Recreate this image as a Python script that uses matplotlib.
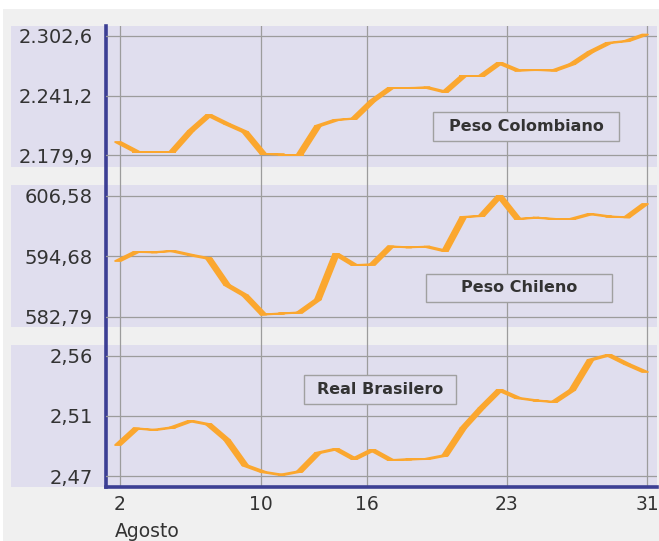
import matplotlib
matplotlib.use("Agg")
import matplotlib.pyplot as plt
from matplotlib.patches import Rectangle
from matplotlib.collections import PolyCollection

# ---------------- data ----------------
dias = [2, 3, 4, 5, 6, 7, 8, 9, 10, 11, 12, 13, 14, 15, 16, 17, 18, 19, 20,
        21, 22, 23, 24, 25, 26, 27, 28, 29, 30, 31]

peso_colombiano = [2193.3, 2183.5, 2183.5, 2183.5, 2204.6, 2221.1, 2211.9, 2203.6,
                   2180.9, 2180.4, 2180.4, 2209.8, 2216.0, 2217.5, 2235.6, 2249.0,
                   2249.0, 2249.5, 2244.9, 2261.3, 2261.3, 2274.8, 2267.0, 2267.5,
                   2267.0, 2273.7, 2286.1, 2295.4, 2297.4, 2304.1]

peso_chileno = [593.74, 595.51, 595.45, 595.71, 594.92, 594.23, 589.02, 586.96,
                583.22, 583.42, 583.62, 586.17, 595.12, 592.95, 593.05, 596.59,
                596.43, 596.55, 595.71, 602.39, 602.59, 606.52, 602.00, 602.25,
                602.00, 602.00, 602.98, 602.49, 602.33, 604.95]

real_brasilero = [2.4928, 2.5049, 2.5038, 2.5056, 2.5104, 2.5078, 2.4965, 2.4779,
                  2.4731, 2.4710, 2.4735, 2.4870, 2.4899, 2.4826, 2.4892, 2.4819,
                  2.4823, 2.4826, 2.4852, 2.5052, 2.5198, 2.5330, 2.5271, 2.5253,
                  2.5242, 2.5330, 2.5549, 2.5585, 2.5519, 2.5461]

series_names = ["Peso Colombiano", "Peso Chileno", "Real Brasilero"]

col_ticks = [2179.9, 2241.25, 2302.6]
col_labels = ["2.179,9", "2.241,2", "2.302,6"]
chi_ticks = [582.79, 594.685, 606.58]
chi_labels = ["582,79", "594,68", "606,58"]
bra_ticks = [2.470, 2.514, 2.558]
bra_labels = ["2,47", "2,51", "2,56"]

x_tick_pos = [2.11, 9.87, 15.70, 23.40, 31.11]
x_tick_labels = ["2", "10", "16", "23", "31"]
mes = "Agosto"

# ---------------- style ----------------
W, H = 659, 541
ORANGE = "#FBA72F"
LAV = "#E0DEEE"
BG = "#F0F0F0"
BLUE = "#3C3F94"
GRID = "#9C9C9C"
TXT = "#333333"

def fx(px):
    return px / W

def fy(py):
    return 1 - py / H

fig = plt.figure(figsize=(W / 100, H / 100), dpi=100)
fig.patch.set_facecolor("white")
fig.add_artist(Rectangle((fx(3), 0), 1 - fx(3), fy(9), transform=fig.transFigure,
                         facecolor=BG, edgecolor="none", zorder=-5))

panels = [(26, 167), (185, 326.7), (345, 486.7)]
for top, bot in panels:
    fig.add_artist(Rectangle((fx(11), fy(bot)), fx(657) - fx(11), fy(top) - fy(bot),
                             transform=fig.transFigure, facecolor=LAV,
                             edgecolor="none", zorder=-4))

XL = (1.34, 31.66)
AX_L, AX_R = 106, 657

# frame axes: vertical grid, x labels, blue spines
axf = fig.add_axes([fx(AX_L), fy(486.5), fx(AX_R) - fx(AX_L), fy(26) - fy(486.5)])
axf.set_facecolor("none")
axf.set_xlim(*XL)
axf.set_ylim(0, 1)
axf.set_yticks([])
axf.set_xticks(x_tick_pos)
axf.set_xticklabels(x_tick_labels, fontsize=13.5, color=TXT)
axf.tick_params(axis="x", length=0, pad=6)
axf.grid(axis="x", color=GRID, linewidth=0.9)
for s in ["top", "right"]:
    axf.spines[s].set_visible(False)
for s in ["left", "bottom"]:
    axf.spines[s].set_color(BLUE)
    axf.spines[s].set_linewidth(2.6)
axf.spines["left"].set_zorder(10)
fig.text(fx(115), fy(537), mes, fontsize=13.5, color=TXT, ha="left", va="baseline")

specs = [
    (peso_colombiano, panels[0], (2167.53, 2312.91), col_ticks, col_labels,
     (433, 619, 112, 141)),
    (peso_chileno, panels[1], (580.824, 608.68), chi_ticks, chi_labels,
     (425.7, 611.7, 273.7, 302.3)),
    (real_brasilero, panels[2], (2.4624, 2.5658), bra_ticks, bra_labels,
     (304.3, 455.7, 375, 404)),
]

half = 0.16
for (vals, (top, bot), yl, tks, tls, box), name in zip(specs, series_names):
    ax = fig.add_axes([fx(AX_L), fy(bot), fx(AX_R) - fx(AX_L), fy(top) - fy(bot)])
    ax.set_facecolor("none")
    ax.set_xlim(*XL)
    ax.set_ylim(*yl)
    ax.set_xticks([])
    ax.set_yticks(tks)
    ax.set_yticklabels(tls, fontsize=14, color=TXT)
    ax.tick_params(axis="y", length=0, pad=9.5)
    ax.grid(axis="y", color=GRID, linewidth=0.9)
    for s in ax.spines.values():
        s.set_visible(False)
    verts = []
    for i in range(len(dias) - 1):
        x0, x1 = dias[i], dias[i + 1]
        y0, y1 = vals[i], vals[i + 1]
        verts.append([(x0 - half, y0), (x1 - half, y1), (x1 + half, y1), (x0 + half, y0)])
    pc = PolyCollection(verts, facecolors=ORANGE, edgecolors=ORANGE, linewidths=1.3,
                        joinstyle="round", zorder=3)
    ax.add_collection(pc)

    bx0, bx1, by0, by1 = box
    ph = bot - top
    ax.add_patch(Rectangle(((bx0 - AX_L) / (AX_R - AX_L), (bot - by1) / ph),
                           (bx1 - bx0) / (AX_R - AX_L), (by1 - by0) / ph,
                           transform=ax.transAxes, facecolor=LAV, edgecolor="#A0A0A0",
                           linewidth=1.0, zorder=4))
    ax.text(((bx0 + bx1) / 2 - AX_L) / (AX_R - AX_L), (bot - (by0 + by1) / 2) / ph, name,
            transform=ax.transAxes, ha="center", va="center", fontsize=11.5,
            fontweight="bold", color=TXT, zorder=5)

fig.savefig("out.png", dpi=100)
